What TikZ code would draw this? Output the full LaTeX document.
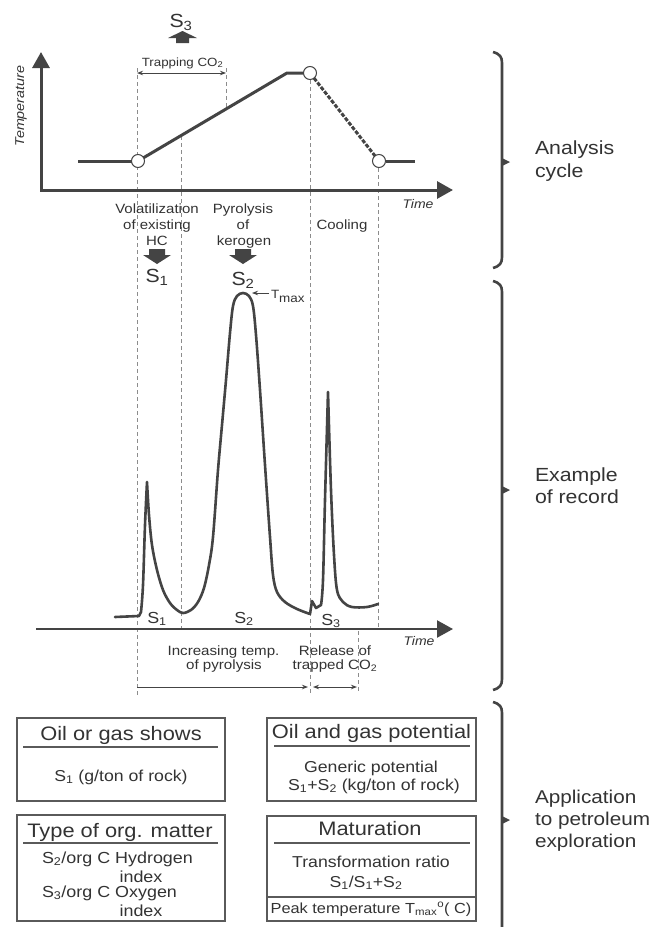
\documentclass[tikz,border=0pt]{standalone}
\usepackage{fontspec}
\setmainfont[FakeStretch=1.12]{Liberation Sans}
\usetikzlibrary{arrows.meta}
\definecolor{txt}{HTML}{333333}
\definecolor{ln}{HTML}{444444}
\definecolor{dsh}{HTML}{8C8C8C}
\definecolor{bx}{HTML}{5A5A5A}
\newcommand\fs[1]{\fontsize{#1}{#1}\selectfont}
\begin{document}
\begin{tikzpicture}[x=1pt,y=-1pt,
 every node/.style={inner sep=0pt,outer sep=0pt,text=txt},
 bl/.style={anchor=base},
 axisline/.style={draw=ln,line width=3pt,line cap=rect,-{Triangle[length=16pt,width=17pt]}},
 prof/.style={draw=ln,line width=3pt},
 coolline/.style={draw=ln,line width=3pt,dash pattern=on 4pt off 1.6pt},
 ptcirc/.style={circle,draw=ln,line width=1pt,fill=white,minimum size=13pt},
 guideline/.style={draw=dsh,line width=0.8pt,dash pattern=on 4pt off 3pt},
 dimline/.style={draw=ln,line width=1pt},
 smalltip/.style={-{Stealth[length=6pt,width=4.5pt]}},
 twotip/.style={{Stealth[length=6pt,width=4.5pt]}-{Stealth[length=6pt,width=4.5pt]}},
 trace/.style={draw=ln,line width=2.6pt,line join=round,line cap=round},
 blk/.style={fill=ln},
 bracket/.style={draw=ln,line width=2.6pt},
 infobox/.style={draw=bx,line width=1.2pt,anchor=north west},
 sepline/.style={draw=bx,line width=1.2pt},
 ]
\useasboundingbox (0,0) rectangle (659,927);
\fill[white] (0,0) rectangle (659,927);

% ---------- guide lines ----------
\draw[guideline] (137,68) -- (137,695);
\draw[guideline] (181,136) -- (181,628);
\draw[guideline] (226,68) -- (226,109);
\draw[guideline] (310,80) -- (310,695);
\draw[guideline] (378,168) -- (378,628);
\draw[guideline] (358,631) -- (358,692);

% ---------- analysis cycle axes ----------
\coordinate (o) at (41,190);
\coordinate (ytip) at (41,52);
\coordinate (xtip) at (453,190);
\draw[axisline] (o) -- (ytip);
\draw[axisline] (o) -- (xtip);
\node[bl,rotate=90,font=\fs{12.8}\itshape] (templbl) at (24,106) {Temperature};
\node[bl,font=\fs{12.5}\itshape] (time1) at (418,208) {Time};

% temperature profile
\coordinate (l0) at (78,161);
\node[ptcirc] (c1) at (138,161) {};
\coordinate (k1) at (287,73);
\node[ptcirc] (c2) at (310,73) {};
\node[ptcirc] (c3) at (379,161) {};
\coordinate (r0) at (415,161);
\draw[prof] (l0) -- (c1.west);
\draw[prof] (c1) -- (k1) -- (c2.west);
\draw[coolline] (c2) -- (c3);
\draw[prof] (c3.east) -- (r0);

% trapping CO2
\coordinate (tr0) at (137,73);
\coordinate (tr1) at (226,73);
\draw[dimline,twotip] (tr0) -- (tr1);
\node[bl,font=\fs{11.9}] (trap) at (182.5,66) {Trapping CO\textsubscript{2}};
\fill[blk] (176,43) -- (189,43) -- (189,38) -- (197,38) -- (182.5,31) -- (168,38) -- (176,38) -- cycle;
\node[bl,font=\fs{19}] (s3top) at (181,27) {S\textsubscript{3}};

% phase labels
\node[bl,font=\fs{13.4}] (vol1) at (157,213) {Volatilization};
\node[bl,font=\fs{13.4}] (vol2) at (157,229) {of existing};
\node[bl,font=\fs{13.4}] (vol3) at (157,245) {HC};
\node[bl,font=\fs{13.4}] (pyr1) at (243,213) {Pyrolysis};
\node[bl,font=\fs{13.4}] (pyr2) at (243,229) {of};
\node[bl,font=\fs{13.4}] (pyr3) at (244,245) {kerogen};
\node[bl,font=\fs{13.4}] (cool) at (342,229) {Cooling};
\fill[blk] (149,249) -- (165,249) -- (165,255) -- (171,255) -- (157,264) -- (143,255) -- (149,255) -- cycle;
\fill[blk] (235,249) -- (251,249) -- (251,255) -- (257,255) -- (243,264) -- (229,255) -- (235,255) -- cycle;
\node[bl,font=\fs{19}] (s1top) at (157,282) {S\textsubscript{1}};
\node[bl,font=\fs{19}] (s2top) at (243,285) {S\textsubscript{2}};

% ---------- record ----------
\draw[trace] (115,617) -- (139,616) -- (141,612)
  -- plot[smooth,tension=0.6] coordinates {(141,612) (143,585) (145,525) (147,482)}
  -- plot[smooth,tension=0.55] coordinates {(147,482) (149,515) (152,545) (157,570) (163,590) (170,603) (177,610) (183,613) (191,610) (198,602) (204,588) (209,565) (213,537) (218,470) (222,425) (226,380) (230,333) (233,306) (237,296) (243,293) (249,296) (253,306) (256,335) (260,390) (265,465) (270,537) (273,575) (277,592) (285,602) (297,609) (310,614)}
  -- (312,601) -- (316,608) -- (321,605)
  -- plot[smooth,tension=0.6] coordinates {(321,605) (323,580) (325,500) (328,392)}
  -- plot[smooth,tension=0.55] coordinates {(328,392) (331,490) (334,555) (337,590) (343,602) (352,607) (367,607) (378,604)};

\node[anchor=base west,font=\fs{12}] (tmax) at (271,298) {T\raisebox{-4pt}{max}};
\coordinate (tm0) at (269,293);
\coordinate (tm1) at (252,293);
\draw[dimline,line width=0.8pt,smalltip] (tm0) -- (tm1);

\coordinate (lo) at (37,629);
\coordinate (ltip) at (453,629);
\draw[axisline,line width=2.2pt] (lo) -- (ltip);
\node[bl,font=\fs{12.5}\itshape] (time2) at (419,645) {Time};
\node[bl,font=\fs{16}] (s1lbl) at (157,623) {S\textsubscript{1}};
\node[bl,font=\fs{16}] (s2lbl) at (244,623) {S\textsubscript{2}};
\node[bl,font=\fs{16}] (s3lbl) at (331,625) {S\textsubscript{3}};

\node[bl,font=\fs{13.5}] (inc1) at (223.5,655) {Increasing temp.};
\node[bl,font=\fs{13.5}] (inc2) at (224,669) {of pyrolysis};
\node[bl,font=\fs{13.5}] (rel1) at (335,655) {Release of};
\node[bl,font=\fs{13.5}] (rel2) at (335,669) {trapped CO\textsubscript{2}};
\coordinate (a1) at (137,687);
\coordinate (a2) at (308,687);
\coordinate (a3) at (313,687);
\coordinate (a4) at (357,687);
\draw[dimline,smalltip] (a1) -- (a2);
\draw[dimline,twotip] (a3) -- (a4);

% ---------- braces ----------
\draw[bracket] (493,52) .. controls (500,54) and (502,57) .. (502,63) -- (502,257) .. controls (502,263) and (500,266) .. (493,268);
\fill[ln] (502,158) -- (510,162) -- (502,166) -- cycle;
\node[anchor=base west,font=\fs{19}] (an1) at (535,154) {Analysis};
\node[anchor=base west,font=\fs{19}] (an2) at (535,177) {cycle};

\draw[bracket] (493,281) .. controls (500,283) and (502,286) .. (502,292) -- (502,679) .. controls (502,685) and (500,688) .. (493,690);
\fill[ln] (502,486) -- (510,490) -- (502,494) -- cycle;
\node[anchor=base west,font=\fs{19}] (ex1) at (535,481) {Example};
\node[anchor=base west,font=\fs{19}] (ex2) at (535,503) {of record};

\draw[bracket] (493,702) .. controls (500,704) and (502,707) .. (502,713) -- (502,930);
\fill[ln] (502,816) -- (510,820) -- (502,824) -- cycle;
\node[anchor=base west,font=\fs{18.5}] (ap1) at (535,803) {Application};
\node[anchor=base west,font=\fs{18.5}] (ap2) at (535,825) {to petroleum};
\node[anchor=base west,font=\fs{18.5}] (ap3) at (535,847) {exploration};

% ---------- boxes ----------
\node[infobox,minimum width=208pt,minimum height=83pt] (b1) at (17,718) {};
\node[infobox,minimum width=208pt,minimum height=106pt] (b2) at (17,815) {};
\node[infobox,minimum width=209pt,minimum height=83pt] (b3) at (267,718) {};
\node[infobox,minimum width=209pt,minimum height=105pt] (b4) at (267,816) {};

\node[bl,font=\fs{19.5}] (t1) at (121,740) {Oil or gas shows};
\draw[sepline] (23,747) -- (218,747);
\node[bl,font=\fs{15.8}] (d1) at (121,781) {S\textsubscript{1} (g/ton of rock)};

\node[bl,font=\fs{19.5}] (t2) at (120,837) {Type of org. matter};
\draw[sepline] (23,843) -- (218,843);
\node[anchor=base west,font=\fs{16}] (d2a) at (42,863) {S\textsubscript{2}/org C Hydrogen};
\node[bl,font=\fs{16}] (d2b) at (141,882) {index};
\node[anchor=base west,font=\fs{16}] (d2c) at (42,897) {S\textsubscript{3}/org C Oxygen};
\node[bl,font=\fs{16}] (d2d) at (141,916) {index};

\node[bl,font=\fs{19.5}] (t3) at (371.5,738) {Oil and gas potential};
\draw[sepline] (274,746) -- (470,746);
\node[bl,font=\fs{15.8}] (d3a) at (371,772) {Generic potential};
\node[bl,font=\fs{15.8}] (d3b) at (374,790) {S\textsubscript{1}+S\textsubscript{2} (kg/ton of rock)};

\node[bl,font=\fs{19.5}] (t4) at (370,835) {Maturation};
\draw[sepline] (274,843) -- (470,843);
\node[bl,font=\fs{15.8}] (d4a) at (371,867) {Transformation ratio};
\node[bl,font=\fs{15.8}] (d4b) at (366,887) {S\textsubscript{1}/S\textsubscript{1}+S\textsubscript{2}};
\draw[sepline] (267,897) -- (476,897);
\node[bl,font=\fs{14.6}] (d4c) at (371,913) {Peak temperature T\textsubscript{max}\textsuperscript{o}( C)};
\end{tikzpicture}
\end{document}
